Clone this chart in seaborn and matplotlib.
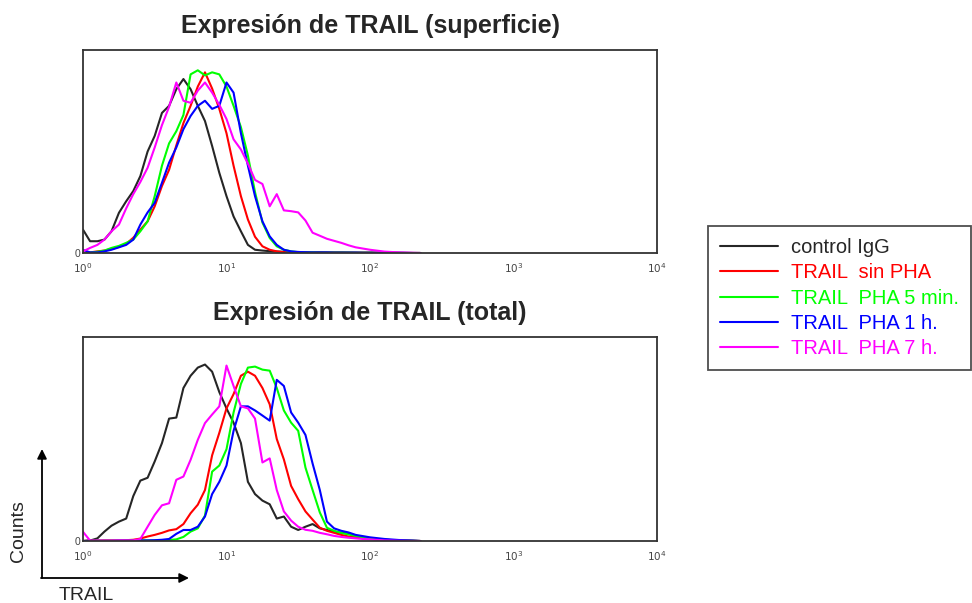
import numpy as np
import pandas as pd
import matplotlib
matplotlib.use("Agg")
import matplotlib.pyplot as plt
import seaborn as sns
from matplotlib.lines import Line2D

# ---- datos leidos del histograma (citometria) ----
# intensidad de fluorescencia (eje x log), mismo muestreo para todas las curvas
intensidad = [1.0, 1.12, 1.26, 1.41, 1.58, 1.78, 2.0, 2.24, 2.51, 2.82,
              3.16, 3.55, 3.98, 4.47, 5.01, 5.62, 6.31, 7.08, 7.94, 8.91,
              10, 11.2, 12.6, 14.1, 15.8, 17.8, 20, 22.4, 25.1, 28.2,
              31.6, 35.5, 39.8, 44.7, 50.1, 56.2, 63.1, 70.8, 79.4, 89.1,
              100, 126, 158, 200, 224]

muestras = ["control IgG", "TRAIL  sin PHA", "TRAIL  PHA 5 min.",
            "TRAIL  PHA 1 h.", "TRAIL  PHA 7 h."]
colores = ["#262626", "#ff0000", "#00ff00", "#0000ff", "#ff00ff"]

# panel superior: TRAIL en superficie (conteos relativos)
sup_control = [11.5, 5.8, 5.8, 6.6, 10.7, 19.8, 25.5, 30.5, 37.9, 50,
               57.7, 69, 72.5, 80.7, 85.7, 80.7, 72.5, 65, 52.7, 39.5,
               28, 18, 10.7, 4, 1.6, 1.2, 0.9, 0.7, 0.6, 0.5,
               0.5, 0.4, 0.4, 0.4, 0.3, 0.3, 0.3, 0.2, 0.2, 0.2,
               0.2, 0.1, 0.1, 0, 0]
sup_sin_pha = [0, 0.3, 0.8, 1.2, 2, 3, 4.5, 7.5, 11.5, 15.6,
               23, 33, 41, 53, 64, 72.5, 82, 89, 81, 71,
               59, 43, 28, 16.5, 8, 3.3, 1.6, 0.8, 0.4, 0.3,
               0.3, 0.3, 0.2, 0.2, 0.2, 0.2, 0.2, 0.2, 0.1, 0.1,
               0.1, 0.1, 0, 0, 0]
sup_pha_5min = [0, 0.2, 0.6, 1.2, 2.5, 3.5, 5, 6.6, 10.7, 15.6,
                28, 43, 54, 60, 68, 88, 90, 87.5, 89, 88,
                82, 72.5, 62, 48, 30, 15, 7.4, 3.3, 1.6, 0.8,
                0.4, 0.3, 0.3, 0.2, 0.2, 0.2, 0.2, 0.2, 0.1, 0.1,
                0.1, 0.1, 0, 0, 0]
sup_pha_1h = [1.5, 0.3, 0.3, 0.8, 1.6, 2.8, 4, 6.6, 14, 20,
              24.7, 34.6, 44.5, 52, 61, 67.5, 72.5, 75, 71, 72.5,
              84, 79, 59, 43, 28, 15.6, 8.2, 4, 1.6, 0.8,
              0.5, 0.4, 0.3, 0.3, 0.3, 0.2, 0.2, 0.2, 0.2, 0.1,
              0.1, 0.1, 0.1, 0, 0]
sup_pha_7h = [0.8, 2.5, 4, 6.6, 10.7, 14, 22, 29, 35, 42,
              52, 63, 72, 84, 75, 74, 80, 84, 79, 73,
              66, 56, 51, 44, 36, 34, 23, 29, 21, 20.6,
              20, 16, 10, 8.5, 7, 6, 5, 3.8, 2.8, 2.2,
              1.6, 0.7, 0.3, 0.1, 0]

# panel inferior: TRAIL total
inf_control = [0, 0.2, 1.3, 4.6, 7.5, 9.5, 11, 22, 29.6, 31,
               39, 48, 60, 60.5, 75, 81, 85, 86.5, 83, 73,
               65, 58, 48, 29, 23, 19.8, 18, 11, 12, 7,
               5.4, 7, 8.3, 6.2, 5.4, 4.6, 4, 3.6, 2.5, 2,
               1.3, 0.6, 0.3, 0.1, 0]
inf_sin_pha = [0, 0.2, 0.2, 0.3, 0.3, 0.3, 0.4, 0.6, 1.2, 2.2,
               3, 4, 5.2, 5.8, 8.3, 13.6, 17.8, 25, 42, 53,
               65, 72, 81, 83, 81, 75, 67, 50, 40, 27,
               20.5, 14.5, 10.5, 6.5, 5, 4, 3, 2.2, 1.8, 1.4,
               1.1, 0.5, 0.2, 0.1, 0]
inf_pha_5min = [0, 0.1, 0.1, 0.1, 0.1, 0.2, 0.2, 0.2, 0.3, 0.3,
                0.3, 0.4, 0.5, 0.8, 2, 4.6, 6.2, 12.5, 34, 37,
                45, 63, 77, 85, 85.5, 84, 83.5, 75, 64, 58,
                54, 36, 25, 14, 6.5, 5, 4, 3.2, 2.5, 1.8,
                1.3, 0.6, 0.3, 0.1, 0]
inf_pha_1h = [0, 0.1, 0.1, 0.1, 0.1, 0.2, 0.2, 0.2, 0.3, 0.3,
              0.4, 0.6, 1, 3.5, 5.4, 5.4, 7, 12, 23, 29,
              37, 54, 66, 66, 64, 61.5, 59, 79, 76, 63,
              58, 52, 38, 25, 9.5, 6.2, 5, 4.2, 3, 2.4,
              1.8, 1.0, 0.5, 0.2, 0]
inf_pha_7h = [4.5, 0.2, 0.2, 0.2, 0.2, 0.3, 0.3, 0.3, 1.0, 7,
              12.8, 17.5, 18.5, 30, 31.6, 39.8, 49.6, 57.8, 62, 66,
              86, 76, 66, 65, 60, 38.5, 40.5, 25, 14.5, 10,
              7, 5.5, 5, 4, 3.3, 2.5, 2, 1.6, 1.3, 1,
              0.8, 0.3, 0.1, 0, 0]

titulo_sup = "Expresión de TRAIL (superficie)"
titulo_inf = "Expresión de TRAIL (total)"


def tabla(series):
    filas = []
    for nombre, valores in zip(muestras, series):
        for x, y in zip(intensidad, valores):
            filas.append((nombre, x, y))
    return pd.DataFrame(filas, columns=["muestra", "intensidad", "conteo"])


def dibujar_panel(ax, series, titulo):
    df = tabla(series)
    sns.lineplot(data=df, x="intensidad", y="conteo", hue="muestra",
                 hue_order=muestras, palette=colores, estimator=None,
                 sort=False, linewidth=1.5, legend=False, ax=ax)
    ax.set_xscale("log")
    ax.set_xlim(1, 1e4)
    ax.set_ylim(0, 100)
    ax.set_xlabel("")
    ax.set_ylabel("")
    ax.set_xticks([1, 10, 100, 1000, 10000])
    ax.set_xticklabels([r"$10^0$", r"$10^1$", r"$10^2$", r"$10^3$", r"$10^4$"],
                       fontsize=7.5, color="#444444")
    ax.tick_params(axis="x", which="major", length=5, width=1, direction="out", pad=1)
    ax.tick_params(axis="x", which="minor", length=3.5, width=1, direction="out")
    ax.set_yticks([0])
    ax.set_yticklabels(["0"], fontsize=7.5, color="#444444")
    ax.tick_params(axis="y", length=0, pad=2)
    for s in ax.spines.values():
        s.set_visible(True)
        s.set_color("#333333")
        s.set_linewidth(1.3)
    ax.set_title(titulo, fontsize=18, fontweight="bold", pad=12)


sns.set_style("white")
plt.rcParams["font.family"] = ["Liberation Sans", "DejaVu Sans"]

fig = plt.figure(figsize=(9.72, 6.03), dpi=100)
ax_sup = fig.add_axes([83 / 972, 1 - 253 / 603, 574 / 972, 203 / 603])
ax_inf = fig.add_axes([83 / 972, 1 - 541 / 603, 574 / 972, 204 / 603])

dibujar_panel(ax_sup, [sup_control, sup_sin_pha, sup_pha_5min, sup_pha_1h, sup_pha_7h], titulo_sup)
dibujar_panel(ax_inf, [inf_control, inf_sin_pha, inf_pha_5min, inf_pha_1h, inf_pha_7h], titulo_inf)

# leyenda con texto del color de cada linea
handles = [Line2D([], [], color=c, lw=1.5) for c in colores]
leg = fig.legend(handles, muestras, loc="upper left",
                 bbox_to_anchor=(708 / 972, 1 - 226 / 603), fontsize=14.5,
                 frameon=True, fancybox=False, edgecolor="#222222",
                 handlelength=2.9, handletextpad=0.6, labelspacing=0.31,
                 borderpad=0.6, borderaxespad=0, labelcolor="linecolor")
leg.get_frame().set_linewidth(1.3)

# flechas de ejes (Counts / TRAIL) abajo a la izquierda
ax_ref = fig.add_axes([0, 0, 1, 1], facecolor="none")
ax_ref.set_xlim(0, 972)
ax_ref.set_ylim(603, 0)
ax_ref.axis("off")
flecha = dict(arrowstyle="-|>", color="black", lw=1.3, mutation_scale=14,
              shrinkA=0, shrinkB=0)
ax_ref.annotate("", xy=(42, 449), xytext=(42, 578), arrowprops=flecha)
ax_ref.annotate("", xy=(189, 578), xytext=(41, 578), arrowprops=flecha)
ax_ref.text(19, 531, "Counts", rotation=90, ha="center", va="center", fontsize=14)
ax_ref.text(86, 596, "TRAIL", ha="center", va="center", fontsize=14)

fig.savefig("out.png", dpi=100)
